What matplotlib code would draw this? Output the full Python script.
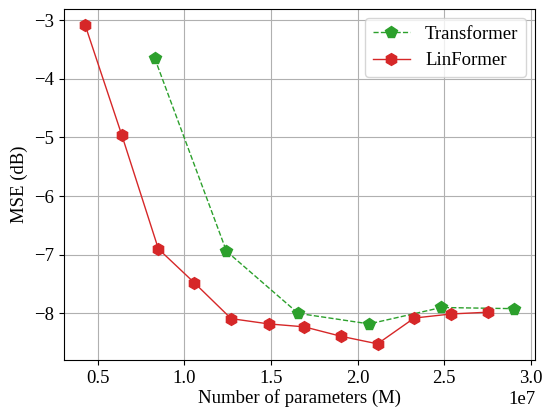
import matplotlib
matplotlib.use("Agg")
import matplotlib.pyplot as plt

plt.rcParams['font.family'] = ['Liberation Serif', 'DejaVu Serif']
plt.rcParams['mathtext.fontset'] = 'stix'

trans_params = [0.829e7, 1.243e7, 1.657e7, 2.067e7, 2.484e7, 2.902e7]
trans_mse = [-3.65, -6.94, -8.00, -8.18, -7.90, -7.92]

lin_params = [0.427e7, 0.639e7, 0.850e7, 1.058e7, 1.270e7, 1.487e7,
              1.692e7, 1.903e7, 2.115e7, 2.327e7, 2.542e7, 2.754e7]
lin_mse = [-3.08, -4.96, -6.90, -7.48, -8.09, -8.18,
           -8.23, -8.39, -8.52, -8.08, -8.01, -7.98]

fs = 13.5
fig, ax = plt.subplots(figsize=(5.44, 4.07), dpi=100)
ax.plot(trans_params, trans_mse, linestyle='--', color='tab:green', marker='p',
        markersize=8.5, linewidth=1, label='Transformer')
ax.plot(lin_params, lin_mse, linestyle='-', color='tab:red', marker='h',
        markersize=8.5, linewidth=1, label='LinFormer')
ax.grid(True)
ax.set_xlabel('Number of parameters (M)', fontsize=fs, labelpad=2)
ax.set_ylabel('MSE (dB)', fontsize=fs)
ax.tick_params(labelsize=fs)
ax.xaxis.get_offset_text().set_fontsize(fs)
ax.legend(fontsize=fs, loc='upper right')
fig.subplots_adjust(left=0.117, right=0.984, top=0.978, bottom=0.116)
fig.savefig('out.png', dpi=100)
